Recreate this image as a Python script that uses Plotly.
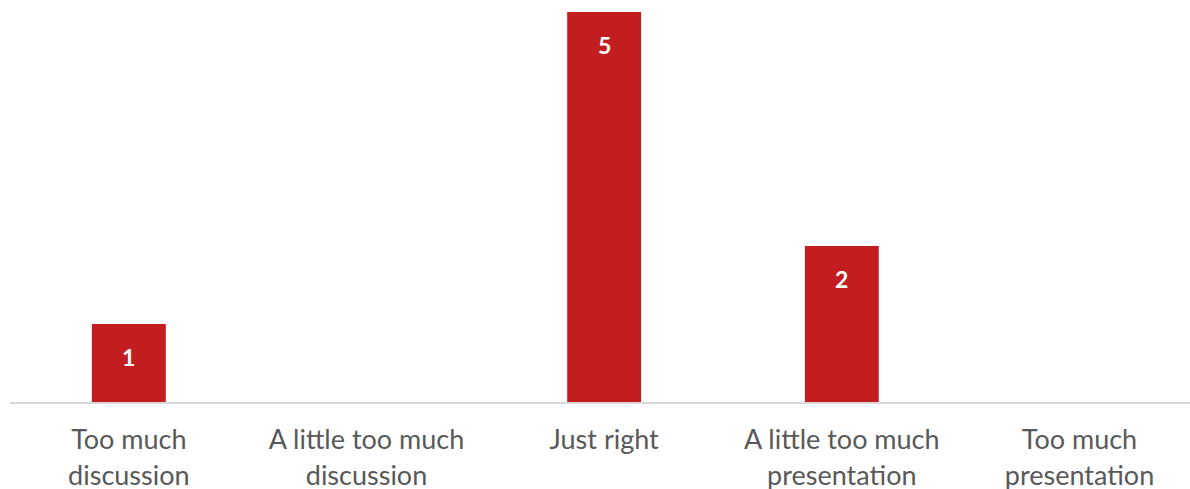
import plotly.graph_objects as go

categories = ["Too much<br>discussion", "A little too much<br>discussion", "Just right",
              "A little too much<br>presentation", "Too much<br>presentation"]
values = [1, 0, 5, 2, 0]
labels = ["1", "", "5", "2", ""]

bar_color = "#C21E1F"

fig = go.Figure()
fig.add_trace(go.Bar(x=list(range(len(categories))), y=values, marker_color=bar_color,
                     marker_line_width=0, hoverinfo="skip"))

for i, (v, t) in enumerate(zip(values, labels)):
    if t:
        fig.add_annotation(x=i, y=v, text=f"<b>{t}</b>", showarrow=False, yanchor="middle",
                           yshift=-33, font=dict(family="Lato", size=23, color="white"))

fig.update_layout(
    width=1190, height=489,
    margin=dict(l=10, r=0, t=12, b=87, autoexpand=False),
    paper_bgcolor="white", plot_bgcolor="white",
    bargap=0.689, showlegend=False,
)
fig.update_xaxes(
    tickmode="array", tickvals=list(range(len(categories))), ticktext=categories,
    range=[-0.5, 4.465], showgrid=False, zeroline=False, automargin=False,
    showline=True, linecolor="#D9D9D9", linewidth=2,
    ticks="outside", ticklen=13, tickcolor="rgba(0,0,0,0)",
    tickfont=dict(family="Lato", size=27, color="#595959"),
)
fig.update_yaxes(range=[0, 5], visible=False, showgrid=False, zeroline=False, automargin=False)

fig.write_html("out.html")
